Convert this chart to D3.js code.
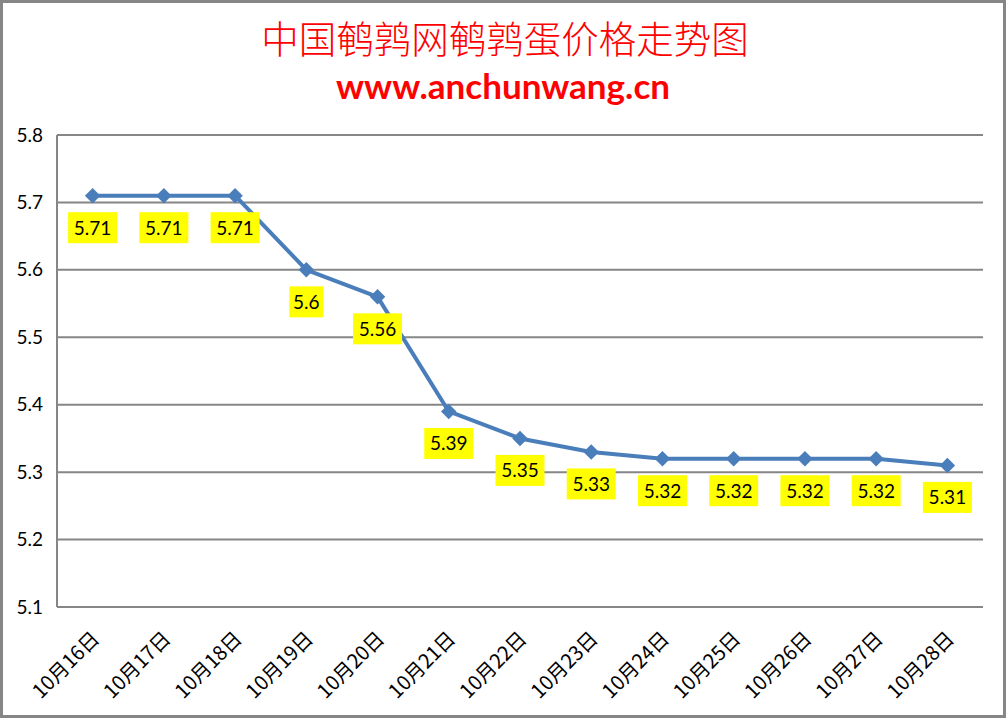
<!DOCTYPE html>
<html><head><meta charset="utf-8">
<script src="https://cdn.jsdelivr.net/npm/d3@7"></script>
<style>body{margin:0;background:#fff}svg{display:block}</style>
</head><body>
<script>
const categories = ["10月16日","10月17日","10月18日","10月19日","10月20日","10月21日","10月22日","10月23日","10月24日","10月25日","10月26日","10月27日","10月28日"];
const prices = [5.71,5.71,5.71,5.6,5.56,5.39,5.35,5.33,5.32,5.32,5.32,5.32,5.31];
const labels = ["5.71","5.71","5.71","5.6","5.56","5.39","5.35","5.33","5.32","5.32","5.32","5.32","5.31"];
const yTicks = [5.1,5.2,5.3,5.4,5.5,5.6,5.7,5.8];
const title = "中国鹌鹑网鹌鹑蛋价格走势图";
const subtitle = "www.anchunwang.cn";

const W = 1007, H = 719;
const svg = d3.select("body").append("svg").attr("width", W).attr("height", H);
svg.append("rect").attr("x",1.5).attr("y",1.5).attr("width",W-4).attr("height",H-4)
  .attr("fill","#fff").attr("stroke","#868686").attr("stroke-width",3);

const x = d3.scaleBand().domain(categories).range([57, 983]);
const y = d3.scaleLinear().domain([5.1, 5.8]).range([607, 135]);
const cx = d => x(d) + x.bandwidth()/2;

// gridlines
svg.append("g").selectAll("line").data(yTicks).join("line")
  .attr("x1",57).attr("x2",983).attr("y1",d=>y(d)).attr("y2",d=>y(d))
  .attr("stroke","#868686").attr("stroke-width",2);
svg.append("line").attr("x1",57).attr("x2",57).attr("y1",y(5.8)).attr("y2",y(5.1))
  .attr("stroke","#868686").attr("stroke-width",2);

// y axis labels
const yAxis = d3.axisLeft(y).tickValues(yTicks).tickFormat(d3.format(".1f")).tickSize(0).tickPadding(14);
const ya = svg.append("g").attr("transform","translate(57,0)").call(yAxis);
ya.select(".domain").remove();
ya.selectAll("text").attr("font-family","Lato, 'Noto Sans', sans-serif").attr("font-size",19).attr("fill","#000");

// x axis labels
const xa = svg.append("g").attr("transform","translate(0,607)")
  .call(d3.axisBottom(x).tickSize(0).tickPadding(0));
xa.select(".domain").remove();
xa.selectAll("text")
  .attr("font-family","'Noto Sans CJK SC', 'Noto Sans', sans-serif").attr("font-size",20).attr("fill","#000")
  .attr("text-anchor","end").attr("dy",0)
  .attr("transform","translate(8,33) rotate(-45)");

// line
svg.append("path").datum(prices)
  .attr("d", d3.line().x((d,i)=>cx(categories[i])).y(d=>y(d)))
  .attr("fill","none").attr("stroke","#4a7ebb").attr("stroke-width",4).attr("stroke-linejoin","round");

// markers
svg.append("g").selectAll("path").data(prices).join("path")
  .attr("d", d3.symbol(d3.symbolSquare, 120)())
  .attr("transform",(d,i)=>`translate(${cx(categories[i])},${y(d)}) rotate(45)`)
  .attr("fill","#4a7ebb");

// labels
const lg = svg.append("g").selectAll("g").data(prices).join("g")
  .attr("transform",(d,i)=>`translate(${cx(categories[i])},${y(d)+32})`);
lg.append("rect").attr("x",(d,i)=>labels[i].length>3?-24.5:-17).attr("y",-15.5)
  .attr("width",(d,i)=>labels[i].length>3?49:34).attr("height",31).attr("fill","#ffff00");
lg.append("text").text((d,i)=>labels[i]).attr("text-anchor","middle").attr("dy","0.36em")
  .attr("font-family","Lato, 'Noto Sans', sans-serif").attr("font-size",19).attr("fill","#000");

// titles
svg.append("text").attr("x",505).attr("y",53).attr("text-anchor","middle").text(title)
  .attr("font-family","'Noto Sans CJK SC', sans-serif").attr("font-weight",300).attr("font-size",37.5).attr("fill","#ff0000");
svg.append("text").attr("x",503).attr("y",99).attr("text-anchor","middle").text(subtitle)
  .attr("font-family","Lato, 'Open Sans', sans-serif").attr("font-weight","bold").attr("font-size",35).attr("fill","#ff0000");
</script>
</body></html>
